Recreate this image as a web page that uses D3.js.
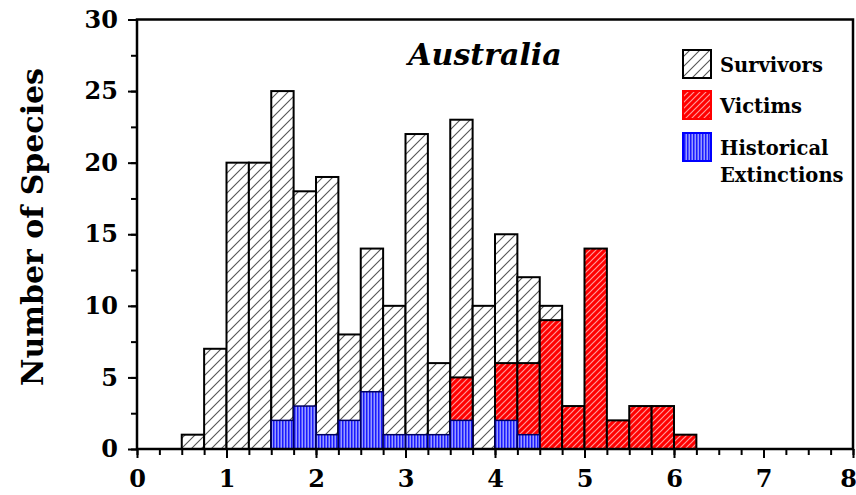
<!DOCTYPE html>
<html>
<head>
<meta charset="utf-8">
<script src="https://cdn.jsdelivr.net/npm/d3@7"></script>
<style>
  body { margin: 0; background: #fff; }
  svg { display: block; }
  text { font-family: "DejaVu Serif", "Liberation Serif", serif; font-weight: bold; fill: #000; }
</style>
</head>
<body>
<svg id="chart" width="856" height="495"></svg>
<script>
// ---- data ----
const binStarts = [0.5, 0.75, 1.0, 1.25, 1.5, 1.75, 2.0, 2.25, 2.5, 2.75, 3.0, 3.25,
                   3.5, 3.75, 4.0, 4.25, 4.5, 4.75, 5.0, 5.25, 5.5, 5.75, 6.0];
const binWidth = 0.25;
const survivors  = [1, 7, 20, 20, 25, 18, 19, 8, 14, 10, 22, 6, 23, 10, 15, 12, 10, 0, 0, 0, 0, 0, 0];
const victims    = [0, 0, 0, 0, 0, 0, 0, 0, 0, 0, 0, 0, 5, 0, 6, 6, 9, 3, 14, 2, 3, 3, 1];
const historical = [0, 0, 0, 0, 2, 3, 1, 2, 4, 1, 1, 1, 2, 0, 2, 1, 0, 0, 0, 0, 0, 0, 0];
const xTicks = [0, 1, 2, 3, 4, 5, 6, 7, 8];
const yTicks = [0, 5, 10, 15, 20, 25, 30];
const seriesNames = ["Survivors", "Victims", "Historical Extinctions"];
const chartTitle = "Australia";
const yTitle = "Number of Species";

(function () {
// ---- layout ----
const svg = d3.select("#chart");
const mLeft = 137, mRight = 853, mTop = 19.5, mBottom = 449;
const x = d3.scaleLinear().domain([0, 8]).range([mLeft, mRight]);
const y = d3.scaleLinear().domain([0, 30]).range([mBottom, mTop]);

// ---- patterns ----
const defs = svg.append("defs");
const pS = defs.append("pattern").attr("id", "hatchS").attr("patternUnits", "userSpaceOnUse")
  .attr("width", 10).attr("height", 10);
pS.append("rect").attr("width", 10).attr("height", 10).attr("fill", "#fff");
pS.append("path").attr("d", "M-1,1 l2,-2 M0,10 l10,-10 M9,11 l2,-2")
  .attr("stroke", "#555").attr("stroke-width", 1.1);

const pV = defs.append("pattern").attr("id", "hatchV").attr("patternUnits", "userSpaceOnUse")
  .attr("width", 6).attr("height", 6);
pV.append("rect").attr("width", 6).attr("height", 6).attr("fill", "#ff0000");
pV.append("path").attr("d", "M-1,1 l2,-2 M0,6 l6,-6 M5,7 l2,-2")
  .attr("stroke", "#ff9a9a").attr("stroke-width", 1.2);

const pH = defs.append("pattern").attr("id", "hatchH").attr("patternUnits", "userSpaceOnUse")
  .attr("width", 3).attr("height", 3);
pH.append("rect").attr("width", 3).attr("height", 3).attr("fill", "#1a1aff");
pH.append("rect").attr("x", 1.6).attr("width", 1.2).attr("height", 3).attr("fill", "#b8bcff");

const fills = ["url(#hatchS)", "url(#hatchV)", "url(#hatchH)"];
const strokes = ["#000", "#000", "#000060"];
const seriesData = [survivors, victims, historical];

// ---- bars ----
seriesData.forEach((vals, si) => {
  const data = binStarts.map((b, i) => ({ b, v: vals[i] })).filter(d => d.v > 0);
  svg.append("g").selectAll("rect").data(data).join("rect")
    .attr("x", d => x(d.b))
    .attr("width", d => x(d.b + binWidth) - x(d.b))
    .attr("y", d => y(d.v))
    .attr("height", d => y(0) - y(d.v))
    .attr("fill", fills[si])
    .attr("stroke", strokes[si])
    .attr("stroke-width", si === 2 ? 1.5 : 2);
});

// ---- axes ----
const xMinor = d3.range(0, 8.001, 0.25);
const yMinor = d3.range(0, 30.001, 2.5);

const styleTicks = g => {
  g.select(".domain").remove();
  g.selectAll("line").attr("stroke", "#000").attr("stroke-width", 2);
  g.selectAll("text").attr("font-size", 24).attr("font-family", "DejaVu Serif")
    .attr("font-weight", "bold").attr("fill", "#000");
};

svg.append("g").attr("transform", `translate(0,${mBottom})`)
  .call(d3.axisBottom(x).tickValues(xMinor).tickSize(6).tickFormat(""))
  .call(styleTicks);
svg.append("g").attr("transform", `translate(0,${mBottom})`)
  .call(d3.axisBottom(x).tickValues(xTicks).tickSize(9).tickPadding(12).tickFormat(d3.format("d")))
  .call(styleTicks)
  .call(g => g.selectAll(".tick").filter(d => d === 8).select("text").attr("dx", -5));

svg.append("g").attr("transform", `translate(${mLeft},0)`)
  .call(d3.axisLeft(y).tickValues(yMinor).tickSize(6).tickFormat(""))
  .call(styleTicks);
svg.append("g").attr("transform", `translate(${mLeft},0)`)
  .call(d3.axisLeft(y).tickValues(yTicks).tickSize(9).tickPadding(10).tickFormat(d3.format("d")))
  .call(styleTicks);

// frame
svg.append("rect").attr("x", mLeft).attr("y", mTop).attr("width", mRight - mLeft).attr("height", mBottom - mTop)
  .attr("fill", "none").attr("stroke", "#000").attr("stroke-width", 2.5);

// ---- titles ----
svg.append("text").attr("x", 485).attr("y", 65).attr("text-anchor", "middle")
  .attr("font-size", 30).attr("font-style", "italic").text(chartTitle);

svg.append("text").attr("transform", "translate(43,227) rotate(-90)").attr("text-anchor", "middle")
  .attr("font-size", 30).text(yTitle);

// ---- legend ----
const legY = [50, 91, 133];
const lg = svg.append("g");
seriesNames.forEach((name, i) => {
  lg.append("rect").attr("x", 683).attr("y", legY[i]).attr("width", 28).attr("height", 28)
    .attr("fill", fills[i]).attr("stroke", i === 0 ? "#000" : (i === 1 ? "#ff0000" : "#0000ff"))
    .attr("stroke-width", 2);
  const words = name === "Historical Extinctions" ? ["Historical", "Extinctions"] : [name];
  words.forEach((w, j) => {
    lg.append("text").attr("x", 720).attr("y", legY[i] + 22 + j * 27)
      .attr("font-size", 19.5).text(w);
  });
});
})();
</script>
</body>
</html>
